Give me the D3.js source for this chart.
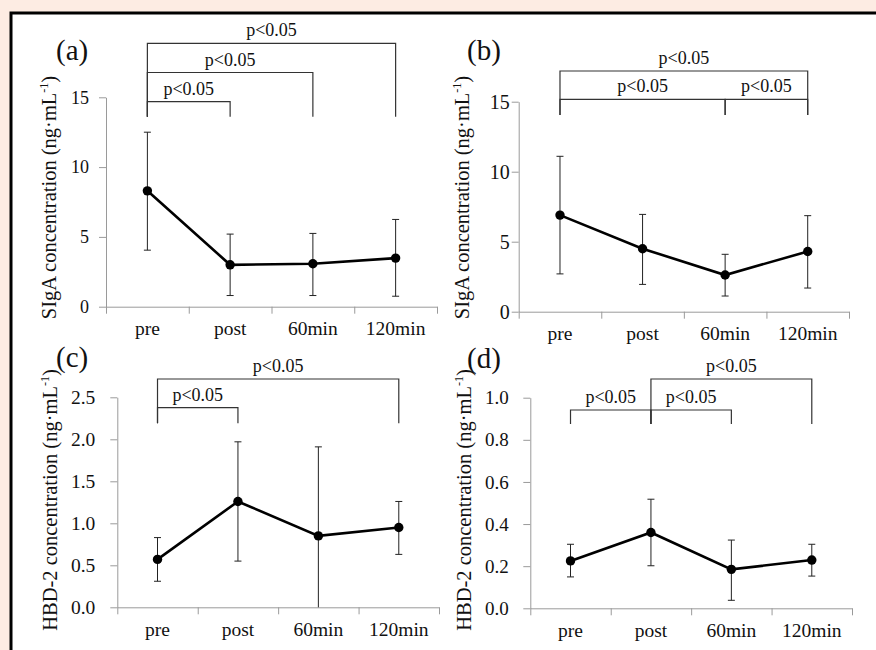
<!DOCTYPE html>
<html>
<head>
<meta charset="utf-8">
<title>SIgA and HBD-2 concentration</title>
<script src="https://cdn.jsdelivr.net/npm/d3@7"></script>
<style>
  body { margin: 0; background: #fdece3; }
  svg { display: block; }
  text { font-family: "Liberation Serif", "Times New Roman", serif; fill: #111; }
  .axis path, .axis line { stroke: #9a9a9a; stroke-width: 1; }
  .err { stroke: #222; stroke-width: 1; }
  .trend { fill: none; stroke: #000; stroke-width: 2.6; }
  .bracket { fill: none; stroke: #333; stroke-width: 1.2; }
</style>
</head>
<body>
<svg id="chart" width="876" height="650" font-family="Liberation Serif, serif"></svg>
<script>
  // sampling times
  var times = ["pre", "post", "60min", "120min"];

  // (a) SIgA, group 1
  var sigaA = [8.3, 3.0, 3.08, 3.48];
  var sigaAHi = [12.5, 5.2, 5.25, 6.25];
  var sigaALo = [4.05, 0.8, 0.8, 0.75];

  // (b) SIgA, group 2
  var sigaB = [6.9, 4.5, 2.62, 4.3];
  var sigaBHi = [11.1, 6.95, 4.1, 6.86];
  var sigaBLo = [2.7, 1.95, 1.12, 1.69];

  // (c) HBD-2, group 1
  var hbdC = [0.57, 1.26, 0.85, 0.95];
  var hbdCHi = [0.83, 1.97, 1.91, 1.26];
  var hbdCLo = [0.31, 0.55, 0, 0.63];

  // (d) HBD-2, group 2
  var hbdD = [0.225, 0.36, 0.185, 0.229];
  var hbdDHi = [0.304, 0.518, 0.324, 0.304];
  var hbdDLo = [0.149, 0.202, 0.038, 0.153];

  // axis ticks
  var sigaTicks = [0, 5, 10, 15];
  var hbdCTicks = [0, 0.5, 1.0, 1.5, 2.0, 2.5];
  var hbdDTicks = [0, 0.2, 0.4, 0.6, 0.8, 1.0];

  // significance brackets: from, to, level
  var pLabel = "p<0.05";
  var bracketsA = [["pre", "post", 0], ["pre", "60min", 1], ["pre", "120min", 2]];
  var bracketsB = [["pre", "60min", 0], ["60min", "120min", 0], ["pre", "120min", 1]];
  var bracketsC = [["pre", "post", 0], ["pre", "120min", 1]];
  var bracketsD = [["pre", "post", 0], ["post", "60min", 0], ["post", "120min", 1]];

  var sigaTitle = "SIgA concentration  (ng\u00b7mL";
  var hbdTitle = "HBD-2 concentration  (ng\u00b7mL";

  // layout of the four panels
  var panels = [
    { tag: "(a)", mean: sigaA, hi: sigaAHi, lo: sigaALo, ticks: sigaTicks, fmt: d3.format("d"), max: 15,
      brackets: bracketsA, title: sigaTitle,
      left: 106, right: 437, top: 97.3, bottom: 306.7, tickFont: 18, tickPad: 10, xLab: 28,
      bBase: 101.7, bStep: 29.2, bDrop: 15, tagX: 56, tagY: 60, titleX: 56, titleY: 197.5 },
    { tag: "(b)", mean: sigaB, hi: sigaBHi, lo: sigaBLo, ticks: sigaTicks, fmt: d3.format("d"), max: 15,
      brackets: bracketsB, title: sigaTitle,
      left: 518.7, right: 849, top: 101.7, bottom: 311.7, tickFont: 20, tickPad: 2, xLab: 28,
      bBase: 99.3, bStep: 28.3, bDrop: 15.7, tagX: 467, tagY: 60, titleX: 469, titleY: 197.5 },
    { tag: "(c)", mean: hbdC, hi: hbdCHi, lo: hbdCLo, ticks: hbdCTicks, fmt: d3.format(".1f"), max: 2.5,
      brackets: bracketsC, title: hbdTitle,
      left: 117.3, right: 439, top: 397.3, bottom: 607.3, tickFont: 19.5, tickPad: 15, xLab: 29,
      bBase: 407.7, bStep: 28.7, bDrop: 15.6, tagX: 56, tagY: 367, titleX: 56.7, titleY: 500 },
    { tag: "(d)", mean: hbdD, hi: hbdDHi, lo: hbdDLo, ticks: hbdDTicks, fmt: d3.format(".1f"), max: 1.0,
      brackets: bracketsD, title: hbdTitle,
      left: 530.3, right: 852, top: 397.7, bottom: 608.3, tickFont: 19, tickPad: 14.6, xLab: 28.5,
      bBase: 410, bStep: 31, bDrop: 14, tagX: 467, tagY: 368, titleX: 471, titleY: 500 }
  ];

  var chart = d3.select("#chart");

  // white frame
  chart.append("rect")
    .attr("x", 11)
    .attr("y", 13)
    .attr("width", 900)
    .attr("height", 700)
    .attr("fill", "#fff")
    .attr("stroke", "#000")
    .attr("stroke-width", 3);

  panels.forEach(drawPanel);

  function drawPanel(p) {
    var g = chart.append("g");
    var x = d3.scaleBand().domain(times).range([p.left, p.right]);
    var xEdge = d3.scaleLinear().domain([0, times.length]).range([p.left, p.right]);
    var y = d3.scaleLinear().domain([0, p.max]).range([p.bottom, p.top]);
    var cx = function(t) { return x(t) + x.bandwidth() / 2; };

    // y axis
    g.append("g")
      .attr("class", "axis")
      .attr("transform", "translate(" + p.left + ",0)")
      .call(d3.axisLeft(y).tickValues(p.ticks).tickFormat(p.fmt)
        .tickSize(7).tickSizeOuter(0).tickPadding(p.tickPad))
      .selectAll("text")
        .style("font-size", p.tickFont + "px");

    // x axis with ticks between categories
    g.append("g")
      .attr("class", "axis")
      .attr("transform", "translate(0," + p.bottom + ")")
      .call(d3.axisBottom(xEdge).tickValues(d3.range(times.length + 1))
        .tickFormat("").tickSize(7).tickSizeOuter(0));

    // category labels
    var labAxis = g.append("g")
      .attr("transform", "translate(0," + p.bottom + ")")
      .call(d3.axisBottom(x).tickSize(0));
    labAxis.select(".domain").remove();
    labAxis.selectAll("text")
      .attr("y", p.xLab)
      .attr("dy", null)
      .style("font-size", "19.5px");

    // error bars
    var rows = times.map(function(t, i) {
      return { t: t, m: p.mean[i], hi: p.hi[i], lo: p.lo[i] };
    });
    var err = g.selectAll(".errGroup")
      .data(rows)
      .enter().append("g")
        .attr("class", "errGroup");
    err.append("line")
      .attr("class", "err")
      .attr("x1", function(d) { return cx(d.t); })
      .attr("x2", function(d) { return cx(d.t); })
      .attr("y1", function(d) { return y(d.lo); })
      .attr("y2", function(d) { return y(d.hi); });
    err.append("line")
      .attr("class", "err")
      .attr("x1", function(d) { return cx(d.t) - 3.5; })
      .attr("x2", function(d) { return cx(d.t) + 3.5; })
      .attr("y1", function(d) { return y(d.hi); })
      .attr("y2", function(d) { return y(d.hi); });
    err.filter(function(d) { return d.lo > 0; })
      .append("line")
      .attr("class", "err")
      .attr("x1", function(d) { return cx(d.t) - 3.5; })
      .attr("x2", function(d) { return cx(d.t) + 3.5; })
      .attr("y1", function(d) { return y(d.lo); })
      .attr("y2", function(d) { return y(d.lo); });

    // mean line and dots
    g.append("path")
      .datum(rows)
      .attr("class", "trend")
      .attr("d", d3.line()
        .x(function(d) { return cx(d.t); })
        .y(function(d) { return y(d.m); }));
    g.selectAll(".dot")
      .data(rows)
      .enter().append("circle")
        .attr("class", "dot")
        .attr("r", 4.7)
        .attr("cx", function(d) { return cx(d.t); })
        .attr("cy", function(d) { return y(d.m); });

    // significance brackets
    var br = g.selectAll(".br")
      .data(p.brackets)
      .enter().append("g")
        .attr("class", "br");
    br.append("path")
      .attr("class", "bracket")
      .attr("d", function(d) {
        var yl = p.bBase - d[2] * p.bStep;
        var yb = p.bBase + p.bDrop;
        return "M" + cx(d[0]) + "," + yb + "V" + yl + "H" + cx(d[1]) + "V" + yb;
      });
    br.append("text")
      .attr("x", function(d) { return (cx(d[0]) + cx(d[1])) / 2; })
      .attr("y", function(d) { return p.bBase - d[2] * p.bStep - 7; })
      .attr("text-anchor", "middle")
      .style("font-size", "18px")
      .text(pLabel);

    // panel tag
    g.append("text")
      .attr("x", p.tagX)
      .attr("y", p.tagY)
      .style("font-size", "29px")
      .text(p.tag);

    // y title
    var title = g.append("text")
      .attr("transform", "translate(" + p.titleX + "," + p.titleY + ") rotate(-90)")
      .attr("text-anchor", "middle")
      .style("font-size", "20.5px");
    title.append("tspan").text(p.title);
    title.append("tspan").attr("dy", -8).style("font-size", "12px").text("-1");
    title.append("tspan").attr("dy", 8).text(")");
  }
</script>
</body>
</html>
